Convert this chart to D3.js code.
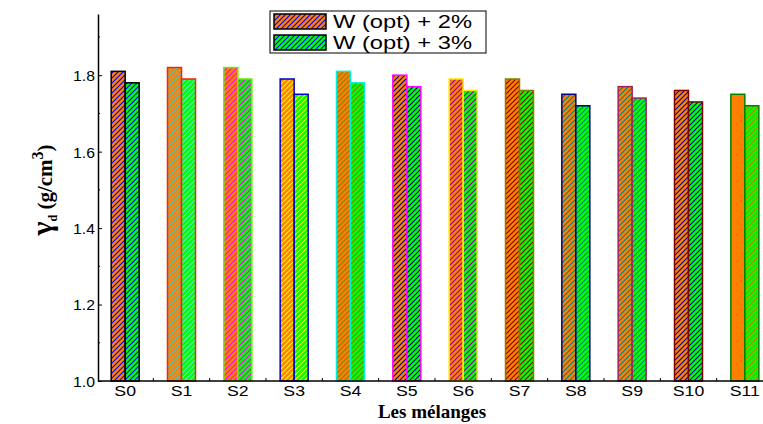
<!DOCTYPE html>
<html>
<head>
<meta charset="utf-8">
<script src="https://cdn.jsdelivr.net/npm/d3@7"></script>
<style>
  html, body { margin: 0; padding: 0; background: #fff; }
  svg { display: block; }
</style>
</head>
<body>
<svg id="chart" width="763" height="424"></svg>
<script>
// ---- data ----
const categories = ["S0","S1","S2","S3","S4","S5","S6","S7","S8","S9","S10","S11"];
const seriesNames = ["W (opt) + 2%", "W (opt) + 3%"];
const valuesW2 = [1.81,1.82,1.82,1.79,1.81,1.80,1.79,1.79,1.75,1.77,1.76,1.75];
const valuesW3 = [1.78,1.79,1.79,1.75,1.78,1.77,1.76,1.76,1.72,1.74,1.73,1.72];
const yTicks = [1.0, 1.2, 1.4, 1.6, 1.8];
const yMinorTicks = [1.1, 1.3, 1.5, 1.7, 1.9];

// ---- styles ----
const fillColors = ["#ff8000", "#00ff00"];
const edgeColors = ["#000000","#ff2000","#66ee00","#0000cc","#00f0e0","#ff00ff","#ffe800","#808000","#000080","#a02060","#800000","#008000"];
const hatchW2 = ["#0000ff","#40c8c8","#ff00ff","#ffff00","#808000","#000080","#9000a0","#800000","#008080","#008080","#0000a0", null];
const hatchW3 = ["#0000ff","#60e8d8","#ff00ff","#ffff00","#808000","#000080","#9000a0","#800000","#008080","#008080","#0000a0","#c08000"];

const svg = d3.select("#chart");
const defs = svg.append("defs");

function makePattern(id, fill, hatch) {
  const p = defs.append("pattern").attr("id", id)
    .attr("patternUnits", "userSpaceOnUse").attr("width", 5).attr("height", 5);
  p.append("rect").attr("width", 5).attr("height", 5).attr("fill", fill);
  if (hatch) {
    p.append("path").attr("d", "M-1,1 l2,-2 M0,5 l5,-5 M4,6 l2,-2")
      .attr("stroke", hatch).attr("stroke-width", 1.1).attr("fill", "none");
  }
  return "url(#" + id + ")";
}

const x = d3.scaleBand().domain(categories).range([97, 773]).paddingInner(0).paddingOuter(0);
const y = d3.scaleLinear().domain([1.0, 1.96]).range([381, 14]);
const barW = 14;

function stretch(sel, k) {
  sel.each(function() {
    const len = this.getComputedTextLength();
    d3.select(this).attr("textLength", len * k).attr("lengthAdjust", "spacingAndGlyphs");
  });
}

// ---- bars ----
const series = [valuesW2, valuesW3];
const hatches = [hatchW2, hatchW3];
series.forEach((vals, s) => {
  svg.append("g").selectAll("rect").data(categories).join("rect")
    .attr("x", (d) => x(d) + x.bandwidth() / 2 - barW + s * barW)
    .attr("width", barW)
    .attr("y", (d, i) => y(vals[i]))
    .attr("height", (d, i) => y(1.0) - y(vals[i]))
    .attr("fill", (d, i) => makePattern("p" + s + "_" + i, fillColors[s], hatches[s][i]))
    .attr("stroke", (d, i) => edgeColors[i])
    .attr("stroke-width", 1.5);
});

// ---- y axis ----
const yAxis = svg.append("g").attr("transform", "translate(98,0)")
  .call(d3.axisLeft(y).tickValues(yTicks).tickFormat(d3.format(".1f"))
        .tickSizeInner(-4).tickSizeOuter(0).tickPadding(3));
yAxis.select(".domain").attr("stroke", "#000").attr("stroke-width", 1.5);
yAxis.selectAll(".tick line").attr("stroke", "#000");
yAxis.selectAll(".tick text").attr("font-family", "Liberation Sans, Arial, sans-serif")
  .attr("font-size", 15).attr("fill", "#000").attr("x", -3).attr("dy", "0.36em");
stretch(yAxis.selectAll(".tick text"), 1.05);
svg.append("g").selectAll("line").data(yMinorTicks).join("line")
  .attr("x1", 98).attr("x2", 100).attr("y1", d => y(d)).attr("y2", d => y(d))
  .attr("stroke", "#000").attr("stroke-width", 1);

// ---- x axis ----
svg.append("line").attr("x1", 98).attr("x2", 763).attr("y1", y(1.0)).attr("y2", y(1.0))
  .attr("stroke", "#000").attr("stroke-width", 1.5);
svg.append("g").selectAll("line").data(categories.slice(1)).join("line")
  .attr("x1", d => x(d)).attr("x2", d => x(d)).attr("y1", y(1.0)).attr("y2", y(1.0) - 3)
  .attr("stroke", "#000");
const xl = svg.append("g").selectAll("text").data(categories).join("text")
  .attr("x", d => x(d) + x.bandwidth() / 2).attr("y", 396)
  .attr("text-anchor", "middle")
  .attr("font-family", "Liberation Sans, Arial, sans-serif").attr("font-size", 15)
  .text(d => d);
stretch(xl, 1.18);

// ---- axis titles ----
svg.append("text").attr("x", 432).attr("y", 418).attr("text-anchor", "middle")
  .attr("font-family", "Liberation Serif, Times New Roman, serif")
  .attr("font-weight", "bold").attr("font-size", 19).text("Les mélanges");

const yt = svg.append("text").attr("transform", "translate(52,190) rotate(-90)")
  .attr("text-anchor", "middle")
  .attr("font-family", "Liberation Serif, Times New Roman, serif")
  .attr("font-weight", "bold");
yt.append("tspan").attr("font-size", 30).text("γ");
yt.append("tspan").attr("font-size", 12).attr("dy", 5).text("d");
yt.append("tspan").attr("font-size", 21).attr("dy", -5).text(" (g/cm");
yt.append("tspan").attr("font-size", 16).attr("dy", -9).text("3");
yt.append("tspan").attr("font-size", 21).attr("dy", 9).text(")");

// ---- legend ----
const lg = svg.append("g");
lg.append("rect").attr("x", 270).attr("y", 11).attr("width", 216).attr("height", 42)
  .attr("fill", "#fff").attr("stroke", "#000").attr("stroke-width", 1);
const legendHatch = ["#0000ff", "#0000ff"];
seriesNames.forEach((name, s) => {
  const yy = 14 + s * 21;
  lg.append("rect").attr("x", 274).attr("y", yy).attr("width", 52).attr("height", 15)
    .attr("fill", makePattern("leg" + s, fillColors[s], legendHatch[s]))
    .attr("stroke", "#000").attr("stroke-width", 1.5);
  const t = lg.append("text").attr("x", 333).attr("y", yy + 14)
    .attr("font-family", "Liberation Sans, Arial, sans-serif").attr("font-size", 18)
    .text(name);
  t.attr("textLength", 139).attr("lengthAdjust", "spacingAndGlyphs");
});
</script>
</body>
</html>
